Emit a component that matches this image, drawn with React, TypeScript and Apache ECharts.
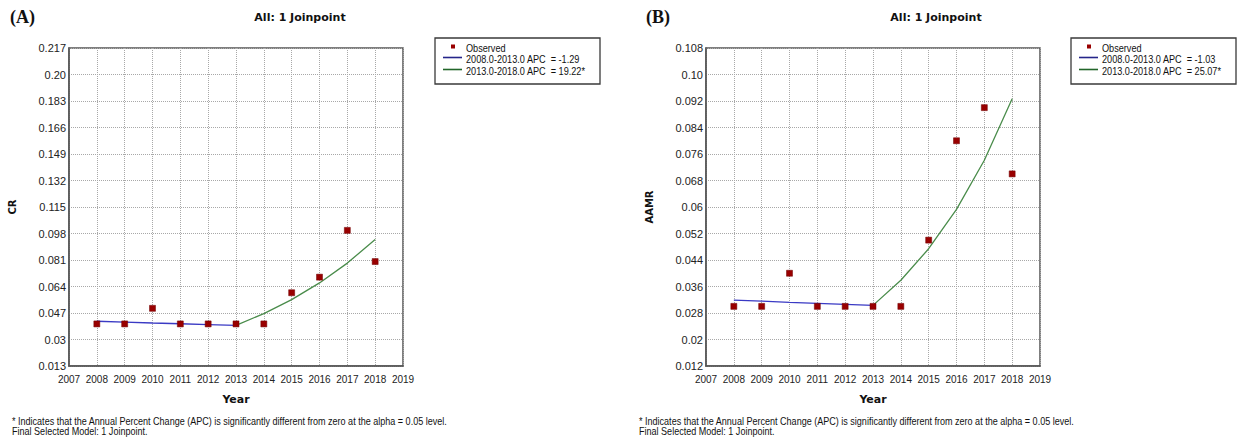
import React, { useEffect, useRef } from 'react';
import * as echarts from 'echarts';

// ---------- data ----------
const years = [2008, 2009, 2010, 2011, 2012, 2013, 2014, 2015, 2016, 2017, 2018];
const segYears1 = [2008, 2009, 2010, 2011, 2012, 2013];
const segYears2 = [2013, 2014, 2015, 2016, 2017, 2018];
const yearTickLabels = ['2007', '2008', '2009', '2010', '2011', '2012', '2013', '2014', '2015', '2016', '2017', '2018', '2019'];

const crObserved = [0.04, 0.04, 0.05, 0.04, 0.04, 0.04, 0.04, 0.06, 0.07, 0.10, 0.08];
const crFit1 = [0.0417, 0.0412, 0.0406, 0.0401, 0.0396, 0.0391];
const crFit2 = [0.0391, 0.0466, 0.0556, 0.0663, 0.0790, 0.0942];
const crTickLabels = ['0.013', '0.03', '0.047', '0.064', '0.081', '0.098', '0.115', '0.132', '0.149', '0.166', '0.183', '0.20', '0.217'];
const crLegend = ['Observed', '2008.0-2013.0 APC  = -1.29', '2013.0-2018.0 APC  = 19.22*'];

const aamrObserved = [0.03, 0.03, 0.04, 0.03, 0.03, 0.03, 0.03, 0.05, 0.08, 0.09, 0.07];
const aamrFit1 = [0.0319, 0.0316, 0.0312, 0.0309, 0.0306, 0.0303];
const aamrFit2 = [0.0303, 0.0379, 0.0474, 0.0593, 0.0741, 0.0927];
const aamrTickLabels = ['0.012', '0.02', '0.028', '0.036', '0.044', '0.052', '0.06', '0.068', '0.076', '0.084', '0.092', '0.10', '0.108'];
const aamrLegend = ['Observed', '2008.0-2013.0 APC  = -1.03', '2013.0-2018.0 APC  = 25.07*'];

const panelLabels = ['(A)', '(B)'];
const titleText = 'All: 1 Joinpoint';
const yNames = ['CR', 'AAMR'];
const footnotes = [
  '* Indicates that the Annual Percent Change (APC) is significantly different from zero at the alpha = 0.05 level.',
  'Final Selected Model: 1 Joinpoint.',
];

// ---------- style ----------
const SANS = "'Liberation Sans', Arial, sans-serif";
const BOLD = "'DejaVu Sans', Verdana, sans-serif";
const OBS_COLOR = '#990000';
const BLUE = '#3a3ac4';
const GREEN = '#4a8c4b';

export default function App() {
  const ref = useRef<HTMLDivElement>(null);

  useEffect(() => {
    if (!ref.current) return;
    const chart = echarts.init(ref.current, undefined, { renderer: 'svg' });

    const panels = [
      { left: 69, obs: crObserved, f1: crFit1, f2: crFit2, labels: crTickLabels, legend: crLegend, min: 0.013, max: 0.217, offset: 0 },
      { left: 706, obs: aamrObserved, f1: aamrFit1, f2: aamrFit2, labels: aamrTickLabels, legend: aamrLegend, min: 0.012, max: 0.108, offset: 636 },
    ];

    const grids: any[] = [];
    const xAxes: any[] = [];
    const yAxes: any[] = [];
    const series: any[] = [];
    const graphics: any[] = [];

    panels.forEach((p, i) => {
      const ticks = p.labels.map(Number);
      grids.push({
        left: p.left, top: 48, width: 334, height: 318,
        show: true, borderColor: '#555', borderWidth: 1.5, backgroundColor: '#fff',
      });
      xAxes.push({
        type: 'value', gridIndex: i, min: 2007, max: 2019, interval: 1,
        name: 'Year', nameLocation: 'middle', nameGap: 28,
        nameTextStyle: { fontFamily: BOLD, fontWeight: 'bold', fontSize: 11, color: '#111' },
        axisLine: { show: true, lineStyle: { color: '#555', width: 1.5 } },
        axisTick: { show: false },
        axisLabel: {
          margin: 8, fontSize: 10, fontFamily: SANS, color: '#222',
          formatter: (v: number) => yearTickLabels[Math.round(v) - 2007] ?? '',
        },
        splitLine: { show: true, lineStyle: { color: '#a8a8a8', type: [1, 1], width: 1 } },
      });
      yAxes.push({
        type: 'value', gridIndex: i, min: p.min, max: p.max,
        name: yNames[i], nameLocation: 'middle', nameGap: 52, nameRotate: 90,
        nameTextStyle: { fontFamily: BOLD, fontWeight: 'bold', fontSize: 10, color: '#111' },
        axisLine: { show: true, lineStyle: { color: '#555', width: 1.5 } },
        axisTick: { show: false, customValues: ticks },
        axisLabel: {
          customValues: ticks, margin: 3, fontSize: 11, fontFamily: SANS, color: '#222',
          formatter: (v: number) => {
            const k = ticks.findIndex((t) => Math.abs(t - v) < 1e-9);
            return k >= 0 ? p.labels[k] : '';
          },
        },
        splitLine: { show: true, lineStyle: { color: '#a8a8a8', type: [1, 1], width: 1 } },
      });
      series.push({
        type: 'line', xAxisIndex: i, yAxisIndex: i, symbol: 'none', z: 3,
        lineStyle: { color: BLUE, width: 1.3 },
        data: segYears1.map((y, k) => [y, p.f1[k]]),
      });
      series.push({
        type: 'line', xAxisIndex: i, yAxisIndex: i, symbol: 'none', z: 3,
        lineStyle: { color: GREEN, width: 1.3 },
        data: segYears2.map((y, k) => [y, p.f2[k]]),
      });
      series.push({
        type: 'scatter', xAxisIndex: i, yAxisIndex: i, symbol: 'rect', symbolSize: 6, z: 5,
        itemStyle: { color: OBS_COLOR, borderColor: '#700000', borderWidth: 0.5, opacity: 1 },
        data: years.map((y, k) => [y, p.obs[k]]),
      });

      const o = p.offset;
      // panel label
      graphics.push({
        type: 'text', x: 10 + o, y: 17,
        style: { text: panelLabels[i], fontFamily: "'Liberation Serif', 'DejaVu Serif', serif", fontWeight: 'bold', fontSize: 18, fill: '#111', verticalAlign: 'middle' },
      });
      // title
      graphics.push({
        type: 'text', x: 300 + o, y: 17,
        style: { text: titleText, fontFamily: BOLD, fontWeight: 'bold', fontSize: 11, fill: '#111', align: 'center', verticalAlign: 'middle' },
      });
      // legend
      const lx = 435 + o;
      graphics.push({
        type: 'rect', shape: { x: lx, y: 38, width: 165, height: 46 },
        style: { fill: '#fff', stroke: '#3a3a3a', lineWidth: 1.3 },
      });
      graphics.push({
        type: 'rect', shape: { x: lx + 16, y: 44.5, width: 4, height: 4 },
        style: { fill: OBS_COLOR },
      });
      graphics.push({
        type: 'line', shape: { x1: lx + 8, y1: 57.5, x2: lx + 27, y2: 57.5 },
        style: { stroke: '#25258a', lineWidth: 1.6 },
      });
      graphics.push({
        type: 'line', shape: { x1: lx + 8, y1: 69.5, x2: lx + 27, y2: 69.5 },
        style: { stroke: '#22662a', lineWidth: 1.6 },
      });
      [48, 59.5, 71].forEach((yy, k) => {
        graphics.push({
          type: 'text', x: lx + 31, y: yy, scaleX: 0.87,
          style: { text: p.legend[k], fontFamily: SANS, fontSize: 10.5, fill: '#111', verticalAlign: 'middle' },
        });
      });
      // footnotes
      [421, 431.5].forEach((yy, k) => {
        graphics.push({
          type: 'text', x: 12 + o - (i === 1 ? 9 : 0), y: yy, scaleX: 0.905,
          style: { text: footnotes[k], fontFamily: SANS, fontSize: 10, fill: '#111', verticalAlign: 'middle' },
        });
      });
    });

    chart.setOption({
      animation: false,
      backgroundColor: '#fff',
      grid: grids,
      xAxis: xAxes,
      yAxis: yAxes,
      series,
      graphic: { elements: graphics },
    });

    return () => chart.dispose();
  }, []);

  return (
    <div
      ref={ref}
      style={{ position: 'fixed', left: 0, top: 0, width: 1237, height: 438, background: '#fff' }}
    />
  );
}
